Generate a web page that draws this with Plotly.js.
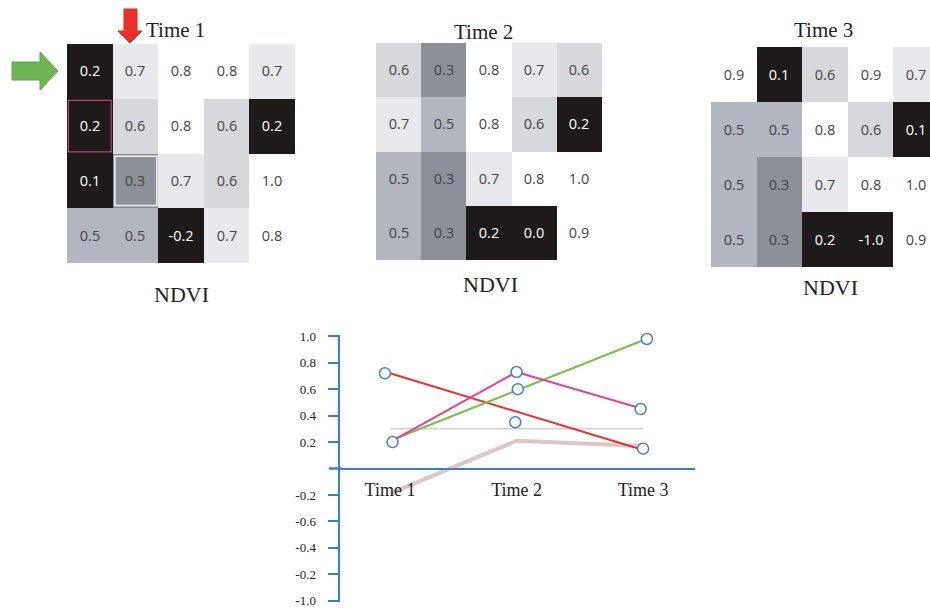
<!DOCTYPE html>
<html><head><meta charset="utf-8">
<script src="https://cdn.plot.ly/plotly-3.0.1.min.js"></script>
<style>html,body{margin:0;padding:0;background:#fff}#chart{width:930px;height:609px}</style>
</head><body><div id="chart"></div>
<script>
// ---- data ----
const gridTitles = ['Time 1', 'Time 2', 'Time 3'];
const gridLabel = 'NDVI';
const ndviTime1 = [[0.2,0.7,0.8,0.8,0.7],[0.2,0.6,0.8,0.6,0.2],[0.1,0.3,0.7,0.6,1.0],[0.5,0.5,-0.2,0.7,0.8]];
const ndviTime2 = [[0.6,0.3,0.8,0.7,0.6],[0.7,0.5,0.8,0.6,0.2],[0.5,0.3,0.7,0.8,1.0],[0.5,0.3,0.2,0.0,0.9]];
const ndviTime3 = [[0.9,0.1,0.6,0.9,0.7],[0.5,0.5,0.8,0.6,0.1],[0.5,0.3,0.7,0.8,1.0],[0.5,0.3,0.2,-1.0,0.9]];
const times = [1, 2, 3];
const timeLabels = ['Time 1', 'Time 2', 'Time 3'];
const redSeries = [0.72, 0.43, 0.14];
const pinkSeries = [0.20, 0.73, 0.45];
const greenSeries = [0.21, 0.59, 0.97];
const greySeries = [0.30, 0.30, 0.30];
const mauveSeries = [-0.19, 0.21, 0.17];
const markerTime = [0.96, 1.02, 2.0, 2.01, 1.99, 3.03, 2.98, 3.0];
const markerNdvi = [0.72, 0.20, 0.73, 0.60, 0.35, 0.98, 0.45, 0.15];
const yTickVals = [1.0, 0.8, 0.6, 0.4, 0.2, -0.2, -0.4, -0.6, -0.8, -1.0];
const yTickText = ['1.0', '0.8', '0.6', '0.4', '0.2', '-0.2', '-0.6', '-0.4', '-0.2', '-1.0'];

// ---- helpers ----
const W = 930, H = 609;
const px = x => x / W, py = y => 1 - y / H;
const serif = 'Liberation Serif, DejaVu Serif, serif';
const cellScale = [[0,'#1e1a1a'],[0.61,'#1e1a1a'],[0.64,'#8c9098'],[0.66,'#8c9098'],[0.74,'#b2b6be'],[0.76,'#b2b6be'],[0.79,'#d6d8dc'],[0.81,'#d6d8dc'],[0.84,'#e8e9ec'],[0.86,'#e8e9ec'],[0.89,'#ffffff'],[1,'#ffffff']];

const grids = [ndviTime1, ndviTime2, ndviTime3];
// pixel boxes [x0,x1,y0,y1] and x range end
const boxes = [[67,295,44,263,4.5],[376,602,43,260,4.5],[711,930,47,267,4.3]];

const data = [];
const layout = {
  width: W, height: H, margin: {l:0, r:0, t:0, b:0},
  paper_bgcolor: '#fff', plot_bgcolor: 'rgba(0,0,0,0)',
  showlegend: false, annotations: [], shapes: []
};

grids.forEach((z, i) => {
  const n = i + 1;
  const b = boxes[i];
  data.push({
    type: 'heatmap', z: z, xaxis: 'x' + n, yaxis: 'y' + n,
    zmin: -1, zmax: 1, colorscale: cellScale, showscale: false,
    texttemplate: '%{z:.1f}', textfont: {family: 'Open Sans, sans-serif', size: 14.5},
    hoverinfo: 'skip', xgap: 0, ygap: 0
  });
  layout['xaxis' + n] = {domain: [px(b[0]), px(b[1])], range: [-0.5, b[4]], anchor: 'y' + n,
    showgrid: false, zeroline: false, showticklabels: false, ticks: '', showline: false};
  layout['yaxis' + n] = {domain: [py(b[3]), py(b[2])], range: [3.5, -0.5], anchor: 'x' + n,
    showgrid: false, zeroline: false, showticklabels: false, ticks: '', showline: false};
  layout.annotations.push({text: gridTitles[i], xref: 'paper', yref: 'paper',
    x: px([175, 484, 823][i]), y: py([30, 32, 30][i]), xanchor: 'center', yanchor: 'middle', showarrow: false,
    font: {family: serif, size: 21, color: '#222'}});
  layout.annotations.push({text: gridLabel, xref: 'paper', yref: 'paper',
    x: px([181, 490, 830][i]), y: py([294, 284, 287][i]), xanchor: 'center', yanchor: 'middle', showarrow: false,
    font: {family: serif, size: 22, color: '#222'}});
});

// highlighted cells in grid 1
layout.shapes.push({type: 'rect', xref: 'x1', yref: 'y1', x0: -0.47, x1: 0.47, y0: 0.53, y1: 1.47,
  line: {color: '#c0407a', width: 1.2}});
layout.shapes.push({type: 'rect', xref: 'x1', yref: 'y1', x0: 0.55, x1: 1.47, y0: 1.55, y1: 2.45,
  line: {color: '#f2f2f2', width: 1.5}});

// arrows
const gArrow = [[12,62],[40,62],[40,52],[58,71],[40,90],[40,80],[12,80]];
layout.shapes.push({type: 'path', xref: 'paper', yref: 'paper', fillcolor: '#6cb552', line: {color: '#5ea648', width: 1},
  path: 'M' + gArrow.map(p => px(p[0]) + ',' + py(p[1])).join(' L') + ' Z'});
const rArrow = [[124,9],[137,9],[137,31],[142,31],[130,43],[118,31],[124,31]];
layout.shapes.push({type: 'path', xref: 'paper', yref: 'paper', fillcolor: '#e8302a', line: {color: '#d8281f', width: 1},
  path: 'M' + rArrow.map(p => px(p[0]) + ',' + py(p[1])).join(' L') + ' Z'});

// ---- line chart ----
const lineAxes = {xaxis: 'x4', yaxis: 'y4', mode: 'lines', hoverinfo: 'skip', cliponaxis: false};
data.push(Object.assign({x: times, y: mauveSeries, line: {color: '#dcc6ca', width: 4}}, lineAxes));
data.push(Object.assign({x: times, y: greySeries, line: {color: '#d6cfd2', width: 1.5}}, lineAxes));
data.push(Object.assign({x: times, y: redSeries, line: {color: '#e8302c', width: 2}}, lineAxes));
data.push(Object.assign({x: times, y: greenSeries, line: {color: '#78c04a', width: 2}}, lineAxes));
data.push(Object.assign({x: times, y: pinkSeries, line: {color: '#e0409a', width: 2}}, lineAxes));
data.push({x: markerTime, y: markerNdvi, xaxis: 'x4', yaxis: 'y4', mode: 'markers', hoverinfo: 'skip', cliponaxis: false,
  marker: {symbol: 'circle', size: 11, color: '#ffffff', line: {color: '#4a7fc0', width: 1.5}}});

const yTop = 335, yBot = 602, yZero = (yTop + yBot) / 2;
layout.xaxis4 = {domain: [px(340), px(695)], range: [0.605, 3.41], anchor: 'free', position: py(yZero),
  tickvals: times, ticktext: timeLabels, ticks: '', showgrid: false, zeroline: false,
  showline: true, linecolor: '#3a80c4', linewidth: 2.5,
  tickfont: {family: serif, size: 18, color: '#222'}, ticklabelstandoff: 4};
layout.yaxis4 = {domain: [py(yBot), py(yTop)], range: [-1.01, 1.01], anchor: 'x4',
  tickvals: yTickVals, ticktext: yTickText, ticks: 'outside', ticklen: 10, tickwidth: 2, tickcolor: '#3a80c4',
  showgrid: false, zeroline: false, showline: true, linecolor: '#3a80c4', linewidth: 2.5,
  ticklabeloverflow: 'allow',
  tickfont: {family: serif, size: 13, color: '#222'}, ticklabelstandoff: 9};
// short stub of the zero line left of the axis
layout.shapes.push({type: 'line', xref: 'paper', yref: 'y4', x0: px(329), x1: px(341), y0: 0, y1: 0,
  line: {color: '#3a80c4', width: 2.5}});

Plotly.newPlot('chart', data, layout, {staticPlot: true});
</script></body></html>
